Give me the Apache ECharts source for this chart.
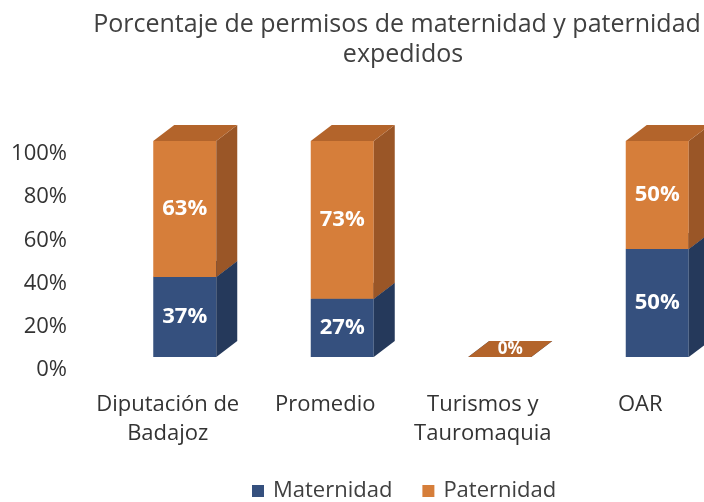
<!DOCTYPE html>
<html>
<head>
<meta charset="utf-8">
<script src="https://cdn.jsdelivr.net/npm/echarts@6/dist/echarts.min.js"></script>
<style>
  html, body { margin: 0; padding: 0; background: #ffffff; }
  #chart { width: 704px; height: 502px; }
</style>
</head>
<body>
<div id="chart"></div>
<script>
const categories = ['Diputación de\nBadajoz', 'Promedio', 'Turismos y\nTauromaquia', 'OAR'];
const maternidad = [37, 27, 0, 50];
const paternidad = [63, 73, 0, 50];
const yTicks = [0, 20, 40, 60, 80, 100];

// 3D look: front face offset from the axis plane, plus depth of the box
const SX = 32, SY = -13;
const DX = 21, DY = -16;
const FONT = '"Open Sans", sans-serif';

const palette = {
  Maternidad: { front: '#35507e', side: '#25395b', top: '#2c4469' },
  Paternidad: { front: '#d67e3a', side: '#9a5627', top: '#b3642b' }
};

// stacked rows [category, from, to, value]
const matRows = maternidad.map((v, i) => [i, 0, v, v]);
const patRows = paternidad.map((v, i) => [i, maternidad[i], maternidad[i] + v, v]);

function makeRender(colors, isTop) {
  return function (params, api) {
    const cat = api.value(0), lo = api.value(1), hi = api.value(2), val = api.value(3);
    const p0 = api.coord([cat, lo]);
    const p1 = api.coord([cat, hi]);
    const w = api.size([1, 0])[0] * 0.40;
    const xl = p0[0] - w / 2 + SX, xr = xl + w;
    const yb = p0[1] + SY, yt = p1[1] + SY;
    const children = [];
    if (yb - yt > 0.5) {
      children.push({
        type: 'rect',
        shape: { x: xl, y: yt, width: w, height: yb - yt },
        style: { fill: colors.front }
      });
      children.push({
        type: 'polygon',
        shape: { points: [[xr, yt], [xr + DX, yt + DY], [xr + DX, yb + DY], [xr, yb]] },
        style: { fill: colors.side }
      });
    }
    children.push({
      type: 'polygon',
      shape: { points: [[xl, yt], [xl + DX, yt + DY], [xr + DX, yt + DY], [xr, yt]] },
      style: { fill: colors.top }
    });
    if (val > 0) {
      children.push({
        type: 'text',
        z2: 10,
        style: {
          text: val + '%', x: (xl + xr) / 2, y: (yt + yb) / 2,
          align: 'center', verticalAlign: 'middle',
          fill: '#ffffff', font: 'bold 22px ' + FONT
        }
      });
    } else if (isTop) {
      children.push({
        type: 'text',
        z2: 10,
        style: {
          text: val + '%', x: (xl + xr) / 2 + DX / 2, y: yt + DY / 2,
          align: 'center', verticalAlign: 'middle',
          fill: '#ffffff', font: 'bold 17px ' + FONT
        }
      });
    }
    return { type: 'group', children: children };
  };
}

const chart = echarts.init(document.getElementById('chart'));

chart.setOption({
  backgroundColor: '#ffffff',
  animation: false,
  graphic: [
    {
      type: 'text', x: 397, y: 25,
      style: {
        text: 'Porcentaje de permisos de maternidad y paternidad',
        align: 'center', verticalAlign: 'middle',
        fill: '#404040', font: '25px ' + FONT
      }
    },
    {
      type: 'text', x: 403, y: 55,
      style: {
        text: 'expedidos',
        align: 'center', verticalAlign: 'middle',
        fill: '#404040', font: '25px ' + FONT
      }
    }
  ],
  grid: { left: 74, right: 0, top: 154, height: 216 },
  legend: {
    data: ['Maternidad', 'Paternidad'],
    top: 480,
    left: 252,
    padding: 0,
    icon: 'rect',
    itemWidth: 12,
    itemHeight: 12,
    itemGap: 30,
    textStyle: { color: '#404040', fontSize: 22, fontFamily: FONT, padding: [0, 0, 0, 4] }
  },
  xAxis: {
    type: 'category',
    data: categories,
    axisLine: { show: false },
    axisTick: { show: false },
    axisLabel: {
      interval: 0,
      margin: 20,
      padding: [0, 0, 0, 30],
      color: '#333333',
      fontSize: 22,
      lineHeight: 29,
      fontFamily: FONT
    }
  },
  yAxis: {
    type: 'value',
    min: yTicks[0],
    max: yTicks[yTicks.length - 1],
    interval: 20,
    splitLine: { show: false },
    axisLine: { show: false },
    axisTick: { show: false },
    axisLabel: {
      margin: 7,
      formatter: '{value}%',
      color: '#333333',
      fontSize: 22,
      fontFamily: FONT
    }
  },
  series: [
    {
      name: 'Maternidad',
      type: 'custom',
      itemStyle: { color: palette.Maternidad.front },
      renderItem: makeRender(palette.Maternidad, false),
      encode: { x: 0, y: [1, 2] },
      data: matRows
    },
    {
      name: 'Paternidad',
      type: 'custom',
      itemStyle: { color: palette.Paternidad.front },
      renderItem: makeRender(palette.Paternidad, true),
      encode: { x: 0, y: [1, 2] },
      data: patRows
    }
  ]
});
</script>
</body>
</html>
